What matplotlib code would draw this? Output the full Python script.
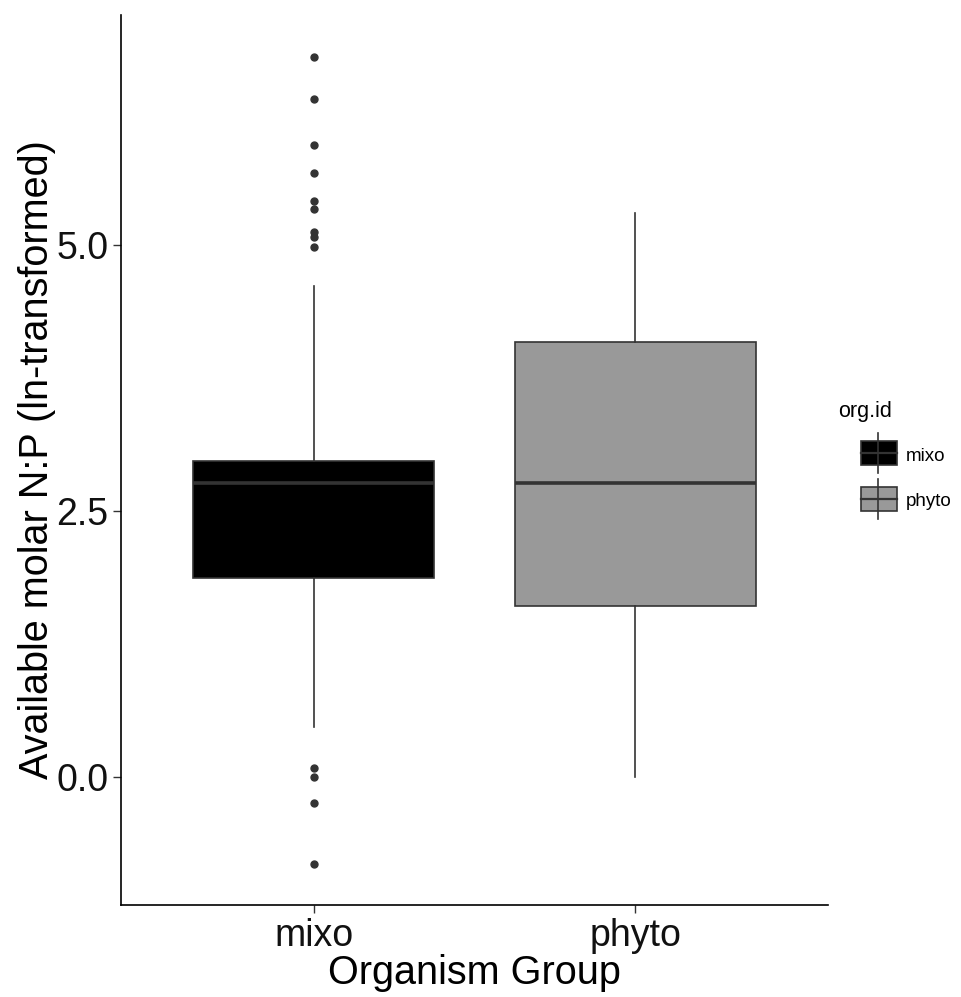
import matplotlib
matplotlib.use('Agg')
import matplotlib.pyplot as plt
from matplotlib.patches import Rectangle
from matplotlib.lines import Line2D

plt.rcParams['font.family'] = ['Liberation Sans', 'DejaVu Sans']

# datos
grupos = ['mixo', 'phyto']
colores = ['#000000', '#999999']
q1 = [1.87, 1.61]
mediana = [2.76, 2.76]
q3 = [2.97, 4.09]
bigote_inf = [0.47, 0.0]
bigote_sup = [4.61, 5.30]
atipicos_mixo = [6.77, 6.37, 5.94, 5.68, 5.41, 5.34, 5.12, 5.07, 4.98,
                 0.08, 0.0, -0.24, -0.82]
atipicos_phyto = []
atipicos = [atipicos_mixo, atipicos_phyto]

fig = plt.figure(figsize=(9.61, 9.97), dpi=100)
ax = fig.add_axes([121/961, 92/997, 707/961, 890/997])

stats = []
for i, g in enumerate(grupos):
    stats.append({'label': g, 'q1': q1[i], 'med': mediana[i], 'q3': q3[i],
                  'whislo': bigote_inf[i], 'whishi': bigote_sup[i],
                  'fliers': atipicos[i]})

bp = ax.bxp(stats, positions=[1, 2], widths=0.75, patch_artist=True,
            showcaps=False,
            boxprops=dict(edgecolor='#333333', linewidth=1.2),
            medianprops=dict(color='#333333', linewidth=2.6),
            whiskerprops=dict(color='#333333', linewidth=1.2),
            flierprops=dict(marker='o', markersize=5, markerfacecolor='#333333',
                            markeredgecolor='#333333'))
for caja, c in zip(bp['boxes'], colores):
    caja.set_facecolor(c)

ax.set_xlim(0.4, 2.6)
ax.set_ylim(-1.203, 7.16)
ax.set_yticks([0.0, 2.5, 5.0])
ax.set_yticklabels(['0.0', '2.5', '5.0'])
ax.set_xticks([1, 2])
ax.set_xticklabels(grupos)
ax.tick_params(labelsize=27, length=6, width=1, color='#333333', labelcolor='#111111',
               pad=3)
for s in ['top', 'right']:
    ax.spines[s].set_visible(False)
for s in ['left', 'bottom']:
    ax.spines[s].set_linewidth(1.2)
ax.set_xlabel('Organism Group', fontsize=28.5, labelpad=0)
ax.set_ylabel('Available molar N:P (ln-transformed)', fontsize=28.5, labelpad=0)

# leyenda manual
fig.text(838/961, 1 - 411/997, 'org.id', fontsize=15.5, va='center', ha='left')
for i, g in enumerate(grupos):
    yc = 453 + i * 46
    fig.add_artist(Line2D([878/961, 878/961], [1 - (yc - 20)/997, 1 - (yc + 20)/997],
                          color='#333333', lw=1.2))
    fig.add_artist(Rectangle((861/961, 1 - (yc + 12)/997), 36/961, 24/997,
                             facecolor=colores[i], edgecolor='#333333', lw=1.2))
    fig.add_artist(Line2D([861/961, 897/961], [1 - yc/997, 1 - yc/997],
                          color='#333333', lw=1.6))
    fig.text(906/961, 1 - (yc + 3)/997, g, fontsize=13.5, va='center', ha='left')

fig.savefig('out.png', dpi=100)
